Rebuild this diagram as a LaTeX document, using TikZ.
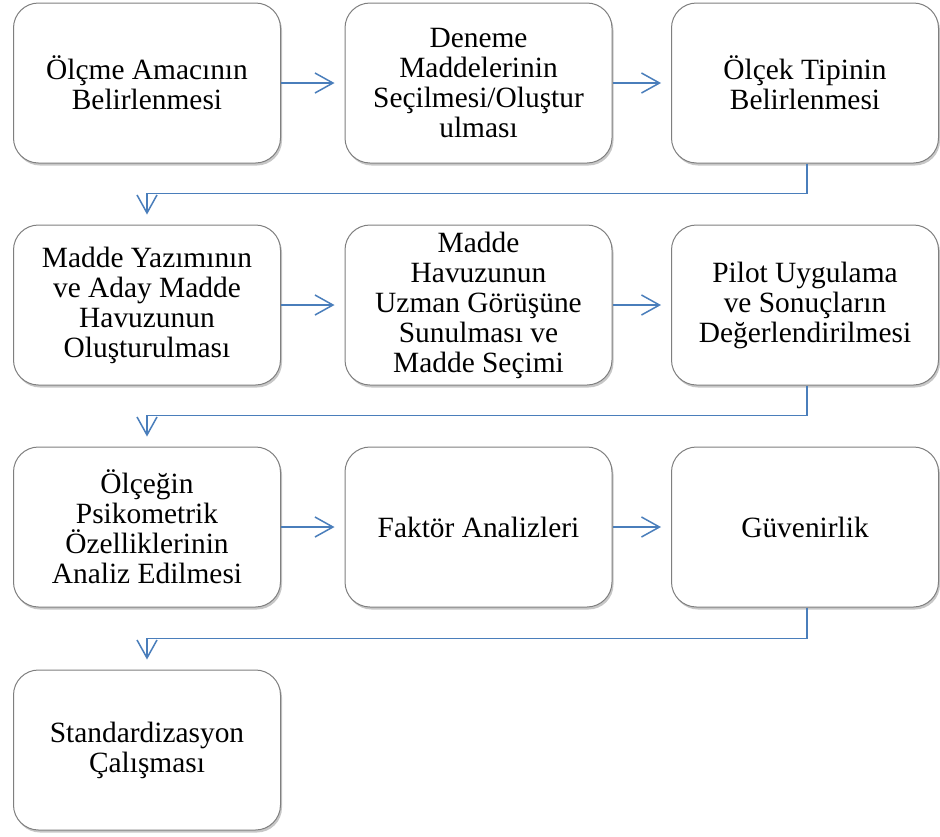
\documentclass[tikz,border=0pt]{standalone}
\usepackage{fontspec}
\setmainfont{Liberation Serif}
\usetikzlibrary{arrows.meta,shadows}
\definecolor{flowblue}{HTML}{4A7EBB}
\definecolor{boxline}{HTML}{7F7F7F}
\tikzset{
  stepbox/.style={draw=boxline, line width=1pt, fill=white,
    rounded corners=25pt, minimum width=267pt, minimum height=160pt,
    inner sep=0pt, align=center,
    font=\fontsize{29.4}{30}\selectfont,
    drop shadow={shadow xshift=1.5pt, shadow yshift=-2.5pt, fill=black, opacity=0.22}},
  flow/.style={draw=flowblue, line width=1.5pt,
    -{Straight Barb[length=18pt, width=20pt, line width=1.5pt]},
    shorten >=10pt}
}
\begin{document}
\begin{tikzpicture}[x=1pt,y=-1pt]
  \useasboundingbox (0,0) rectangle (940,836);
  % row 1
  \node[stepbox] (b1) at (147,83)   {Ölçme Amacının\\Belirlenmesi};
  \node[stepbox] (b2) at (478.5,83) {Deneme\\Maddelerinin\\Seçilmesi/Oluştur\\ulması};
  \node[stepbox] (b3) at (805,83)   {Ölçek Tipinin\\Belirlenmesi};
  % row 2
  \node[stepbox] (b4) at (147,305)   {Madde Yazımının\\ve Aday Madde\\Havuzunun\\Oluşturulması};
  \node[stepbox] (b5) at (478.5,305) {Madde\\Havuzunun\\Uzman Görüşüne\\Sunulması ve\\Madde Seçimi};
  \node[stepbox] (b6) at (805,305)   {Pilot Uygulama\\ve Sonuçların\\Değerlendirilmesi};
  % row 3
  \node[stepbox] (b7) at (147,527)   {Ölçeğin\\Psikometrik\\Özelliklerinin\\Analiz Edilmesi};
  \node[stepbox] (b8) at (478.5,527) {Faktör Analizleri};
  \node[stepbox] (b9) at (805,527)   {Güvenirlik};
  % row 4
  \node[stepbox] (b10) at (147,750)  {Standardizasyon\\Çalışması};

  % arrows within rows
  \draw[flow] (b1) -- (b2);
  \draw[flow] (b2) -- (b3);
  \draw[flow] (b4) -- (b5);
  \draw[flow] (b5) -- (b6);
  \draw[flow] (b7) -- (b8);
  \draw[flow] (b8) -- (b9);
  % elbow connectors between rows
  \draw[flow] ([xshift=2pt]b3.south) -- ++(0,30) -| (b4.north);
  \draw[flow] ([xshift=2pt]b6.south) -- ++(0,30) -| (b7.north);
  \draw[flow] ([xshift=2pt]b9.south) -- ++(0,31) -| (b10.north);
\end{tikzpicture}
\end{document}
